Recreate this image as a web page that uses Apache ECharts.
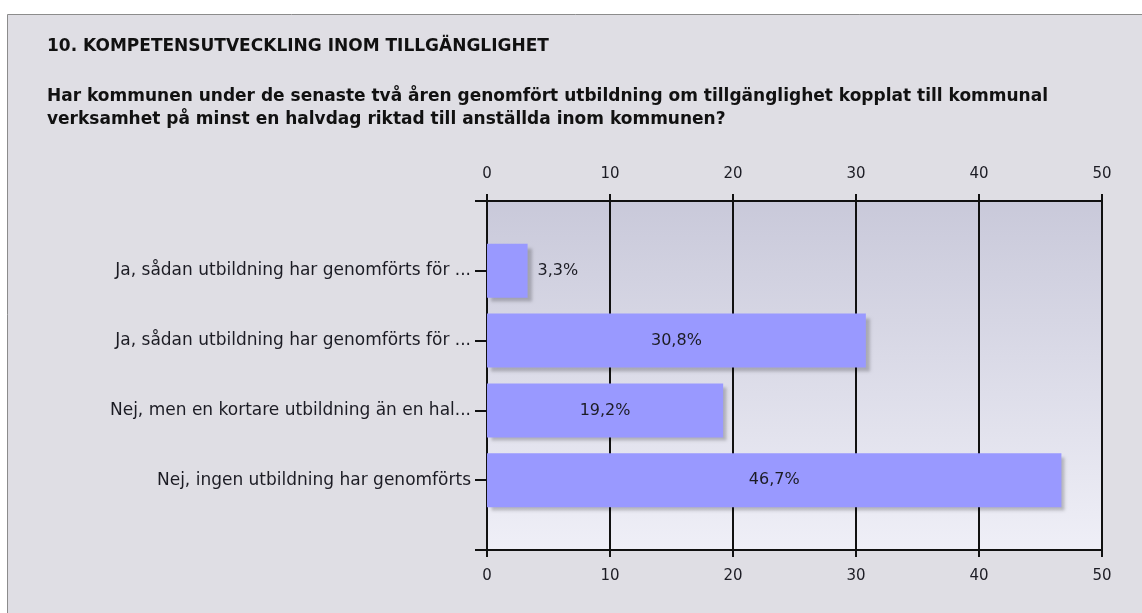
<!DOCTYPE html>
<html>
<head>
<meta charset="utf-8">
<script src="https://cdn.jsdelivr.net/npm/echarts@6/dist/echarts.min.js"></script>
<style>
  html, body { margin: 0; padding: 0; background: #fff; }
  #chart { width: 1142px; height: 613px; }
</style>
</head>
<body>
<div id="chart"></div>
<script>
// data
var categories = [
  'Ja, sådan utbildning har genomförts för ...',
  'Ja, sådan utbildning har genomförts för ...',
  'Nej, men en kortare utbildning än en hal...',
  'Nej, ingen utbildning har genomförts'
]
var values = [3.3, 30.8, 19.2, 46.7]
var xTicks = [0, 10, 20, 30, 40, 50]

var FONT = 'DejaVu Sans'
var TXT = '#1c1c24'

// empty slots at both ends give the gap above the first and below the last bar
var axisCats = [''].concat(categories).concat([''])
var barData = ['-'].concat(values.map(function (v, i) {
  return {
    value: v,
    label: i === 0 ? { position: 'right', distance: 10 } : { position: 'inside' }
  }
})).concat(['-'])

function fmt(v) {
  return v.toFixed(1).replace('.', ',') + '%'
}

var chart = echarts.init(document.getElementById('chart'))

var xCommon = {
  type: 'value',
  min: xTicks[0],
  max: xTicks[xTicks.length - 1],
  interval: 10,
  axisLine: { show: true, lineStyle: { color: '#111', width: 2 } },
  axisTick: { show: true, length: 7, lineStyle: { color: '#111', width: 2 } },
  axisLabel: { margin: 19, color: TXT, fontFamily: FONT, fontSize: 15 }
}

chart.setOption({
  backgroundColor: '#fff',
  animation: false,
  graphic: [{
    type: 'rect',
    z: -10,
    shape: { x: 7.5, y: 14.5, width: 1200, height: 700 },
    style: { fill: '#dfdee4', stroke: '#8c8c8c', lineWidth: 1 }
  }],
  title: [{
    text: '10. KOMPETENSUTVECKLING INOM TILLGÄNGLIGHET',
    left: 42, top: 33,
    textStyle: { fontFamily: FONT, fontSize: 17, fontWeight: 'bold', color: '#111' }
  }, {
    text: 'Har kommunen under de senaste två åren genomfört utbildning om tillgänglighet kopplat till kommunal\nverksamhet på minst en halvdag riktad till anställda inom kommunen?',
    left: 42, top: 80,
    textStyle: { fontFamily: FONT, fontSize: 17, fontWeight: 'bold', color: '#111', lineHeight: 23 }
  }],
  grid: {
    left: 487, right: 40, top: 201, bottom: 63,
    show: true, borderWidth: 0,
    backgroundColor: new echarts.graphic.LinearGradient(0, 0, 0, 1, [
      { offset: 0, color: '#c9c9da' },
      { offset: 1, color: '#efeff7' }
    ])
  },
  xAxis: [
    Object.assign({}, xCommon, {
      position: 'top',
      splitLine: { show: true, lineStyle: { color: '#111', width: 2 } }
    }),
    Object.assign({}, xCommon, {
      position: 'bottom',
      splitLine: { show: false }
    })
  ],
  yAxis: {
    type: 'category',
    data: axisCats,
    inverse: true,
    boundaryGap: false,
    axisLine: { show: true, lineStyle: { color: '#111', width: 2 } },
    axisTick: { show: true, length: 12, lineStyle: { color: '#111', width: 2 } },
    axisLabel: { margin: 16, color: TXT, fontFamily: FONT, fontSize: 17 },
    splitLine: { show: false }
  },
  series: [{
    type: 'bar',
    xAxisIndex: 0,
    data: barData,
    barWidth: 54,
    itemStyle: {
      color: '#9999ff',
      shadowColor: 'rgba(0,0,0,0.22)',
      shadowBlur: 3,
      shadowOffsetX: 4,
      shadowOffsetY: 4
    },
    label: {
      show: true,
      color: TXT,
      fontFamily: FONT,
      fontSize: 16,
      formatter: function (p) { return fmt(p.value) }
    }
  }]
})
</script>
</body>
</html>
